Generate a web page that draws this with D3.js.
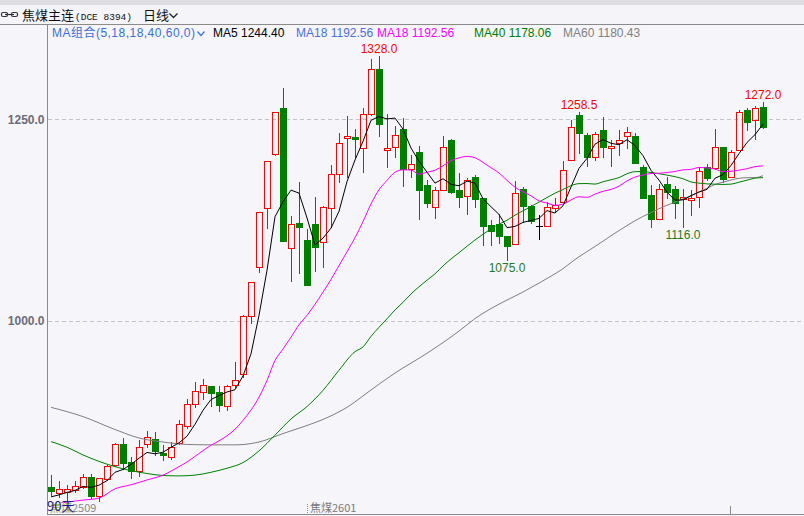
<!DOCTYPE html>
<html><head><meta charset="utf-8">
<script src="https://cdn.jsdelivr.net/npm/d3@7"></script>
<style>body{margin:0;background:#f5f5fa;overflow:hidden}svg{display:block}</style>
</head><body><svg id="c" width="804" height="516"></svg>
<script>
// ---------- data ----------
const opens  = [794,787,788,790.5,794,806.5,783,804,821,847.5,825,814,847.5,853.5,836.5,831.5,849,870,897,912,
  919.5,912,894.5,920.5,934,1006,1067,1140,1207,1264,1090.5,1121.5,1100.5,1120,1098,1140,1182,1227,1228,1214.5,
  1256,1312,1212,1215.5,1238,1188.5,1209.5,1168.5,1141.5,1162.5,1224.5,1162.5,1155,1178.5,1152.5,1119,1120,1105.5,1095.5,1163.5,
  1142.5,1117.5,1117.5,1140,1147.5,1199.5,1255.5,1230.5,1203.5,1236.5,1214.5,1220.5,1229.5,1229.5,1191,1156,1126.5,1170,1163.5,1151,
  1150,1153.5,1191,1189.5,1215.5,1178.5,1212,1261.5,1249,1265];
const highs  = [809,802,797,802,810,810,805.5,821.5,849,855,831.5,852.5,863.5,862.5,846,850,877,903,924.5,928,
  919.5,919.5,920.5,949,1007.5,1048.5,1135,1198.5,1259,1289,1130,1172,1114,1153.5,1142.5,1193.5,1233,1254,1238,1264,
  1324.5,1328,1256.5,1241.5,1251.5,1206,1217,1175,1166,1229,1225.5,1183.5,1177,1181,1152.5,1125,1132.5,1105.5,1173.5,1166,
  1143.5,1131.5,1147.5,1152.5,1198.5,1249,1258.5,1233,1234.5,1253,1224.5,1236.5,1240.5,1233,1193.5,1168.5,1170,1178.5,1167.5,1163.5,
  1162.5,1189.5,1194.5,1238,1215.5,1212,1261.5,1264,1266.5,1272];
const lows   = [784,782,778,788,793,780.5,777,803,820,816.5,805.5,808,844,834,827.5,829,847.5,867.5,893.5,903.5,
  894.5,888.5,889.5,918,930.5,997.5,1060.5,1115,1205.5,1099,1049.5,1059.5,1044.5,1062,1067,1116.5,1172.5,1178.5,1203.5,1184.5,
  1255,1229,1191,1203.5,1167.5,1178.5,1126.5,1141.5,1127.5,1162,1158.5,1141.5,1132.5,1141.5,1094,1094,1096.5,1075,1095.5,1122.5,
  1122,1101.5,1117.5,1135,1147,1199.5,1208,1192,1199.5,1203.5,1192,1205.5,1214.5,1196,1152.5,1116.5,1126.5,1152.5,1127.5,1116,
  1131.5,1141.5,1175,1188.5,1172.5,1178.5,1212,1236.5,1225.5,1239];
const closes = [789,792,792,795.5,806.5,783,805.5,820,847.5,824,814,844,856,839,834,844,872,897,913,920.5,
  911,896,919.5,927,1006,1048,1135,1198,1259,1099,1120,1116.5,1044.5,1091.5,1141,1182,1220.5,1229,1225.5,1256.5,
  1312,1244,1214.5,1230.5,1188.5,1194.5,1162.5,1146.5,1162.5,1215.5,1160,1153.5,1175,1151,1117.5,1111.5,1105.5,1093,1158.5,1142.5,
  1124,1117.5,1141.5,1144,1187,1240.5,1233,1203.5,1232,1215.5,1217,1224.5,1234.5,1196,1152.5,1126.5,1163.5,1160,1146.5,1154,
  1152.5,1186,1177,1215.5,1176,1209.5,1259,1246.5,1264,1240.5];

// moving-average lines before their window is full (prior days are not in the picture)
const ma5EarlyIdx  = [0,1,2,3];
const ma5EarlyVal  = [782,784.5,787.5,790];
const ma18EarlyIdx = [0,2,4,6,8,10,12,14,16];
const ma18EarlyVal = [772,775.5,778,780.5,792,797,803,809,819.5];
const ma40EarlyIdx = [0,2,4,6,8,10,12,14,16,18,20,22,24,26,28,30,32,34,36,38];
const ma40EarlyVal = [850.5,843.5,834,826,819.5,814.5,811,808.5,808,809,812.5,817.5,824.5,839,858.5,878.5,894,914,939,962];
const ma60EarlyIdx = [0,4,8,11,14,17,20,23,26,29,32,34,37,40,43,47,51,53,57];
const ma60EarlyVal = [893,881.5,865.5,855,850,847,846.5,846.5,850,860.5,870.5,878,893,914.5,935.5,960,987.5,1003,1026];

const maPeriods   = [5,18,18,40,60];
const legendNames = ["MA5","MA18","MA18","MA40","MA60"];
const legendVals  = [1244.40,1192.56,1192.56,1178.06,1180.43];
const yTickValues = [1000,1250];
const markHighIdx = [41,66,89];
const markLowIdx  = [57,79];
const contractLabels = ["焦煤2509","焦煤2601"];

// ---------- drawing ----------
const svg = d3.select('#c');
const W = 804;
const FONT = '"Liberation Sans","Noto Sans CJK SC",Arial,sans-serif';
const CJK = '"Noto Sans CJK SC","Liberation Sans",sans-serif';

const x = d3.scaleLinear().domain([0, opens.length-1]).range([51, 763]);
const y = d3.scaleLinear().domain([1000, 1250]).range([321, 119.3]);

// header
svg.append('rect').attr('x',0).attr('y',0).attr('width',W).attr('height',5).attr('fill','#dcdce1');
svg.append('rect').attr('x',0).attr('y',5).attr('width',W).attr('height',19).attr('fill','#f4f4f9');
svg.append('line').attr('x1',0).attr('x2',W).attr('y1',24.5).attr('y2',24.5).attr('stroke','#8a8a8a');
// link icon
const ic = svg.append('g').attr('fill','none').attr('stroke','#333').attr('stroke-width',1.2);
ic.append('rect').attr('x',1.5).attr('y',12.5).attr('width',6).attr('height',4).attr('rx',1.5);
ic.append('rect').attr('x',11.5).attr('y',12.5).attr('width',6).attr('height',4).attr('rx',1.5);
ic.append('line').attr('x1',5).attr('x2',14).attr('y1',14.5).attr('y2',14.5);
svg.append('text').attr('x',22).attr('y',20).attr('font-family',CJK).attr('font-size',13).attr('fill','#111').text('焦煤主连');
svg.append('text').attr('x',75).attr('y',19.5).attr('font-family','"Liberation Mono","DejaVu Sans Mono",monospace')
  .attr('font-size',9.5).attr('fill','#111').text('(DCE 8394)');
svg.append('text').attr('x',143).attr('y',20).attr('font-family',CJK).attr('font-size',13).attr('fill','#111').text('日线');
svg.append('path').attr('d','M169.5,13.5 L173.5,17.5 L177.5,13.5').attr('fill','none').attr('stroke','#222').attr('stroke-width',1.3);

// legend row
const legendColors = ['#000000','#4a70e0','#ff00ff','#008000','#808080'];
svg.append('text').attr('x',52).attr('y',37).attr('font-family',FONT).attr('font-size',12).attr('fill','#3a6fd8')
  .attr('textLength',143).attr('lengthAdjust','spacing')
  .text('MA组合(' + maPeriods.join(',') + ',0)');
svg.append('path').attr('d','M197.5,31.5 L201,35.5 L204.5,31.5').attr('fill','none').attr('stroke','#3a6fd8').attr('stroke-width',1.2);
const legendX = [213,296,377,474,563];
legendNames.forEach((n,k)=>{
  svg.append('text').attr('x',legendX[k]).attr('y',37).attr('font-family',FONT).attr('font-size',12)
    .attr('fill',legendColors[k]).text(n + ' ' + legendVals[k].toFixed(2));
});

// grid lines
svg.append('g').selectAll('line').data(yTickValues).join('line')
  .attr('x1',48).attr('x2',W).attr('y1',d=>Math.round(y(d))+0.5).attr('y2',d=>Math.round(y(d))+0.5)
  .attr('stroke','#c2c2cc').attr('stroke-dasharray','4,3');

// axis labels
const axis = d3.axisLeft(y).tickValues(yTickValues).tickFormat(d=>d.toFixed(1)).tickSize(0).tickPadding(3);
const ag = svg.append('g').attr('transform','translate(47.5,0)').call(axis);
ag.select('.domain').remove();
ag.selectAll('text').attr('font-family',FONT).attr('font-size',12).attr('fill','#6c6c78').attr('font-weight','bold');

// frame lines
svg.append('line').attr('x1',47.5).attr('x2',47.5).attr('y1',24).attr('y2',515).attr('stroke','#8a8a8a');
svg.append('line').attr('x1',47).attr('x2',W).attr('y1',514.5).attr('y2',514.5).attr('stroke','#8a8a8a');

// clip
svg.append('clipPath').attr('id','plot').append('rect').attr('x',48).attr('y',25).attr('width',W-48).attr('height',478);
const plot = svg.append('g').attr('clip-path','url(#plot)');

// candles
const cg = plot.append('g').attr('shape-rendering','crispEdges');
opens.forEach((o,i)=>{
  const c = closes[i], h = highs[i], l = lows[i];
  const cx = Math.round(x(i));
  const yH = Math.round(y(h)), yL = Math.round(y(l));
  const yT = Math.round(y(Math.max(o,c))), yB = Math.round(y(Math.min(o,c)));
  if (c > o) {
    const col = '#ff0000';
    cg.append('rect').attr('x',cx-3+0.5).attr('y',yT+0.5).attr('width',6).attr('height',Math.max(1,yB-yT))
      .attr('fill','none').attr('stroke',col);
    if (yH < yT) cg.append('line').attr('x1',cx+0.5).attr('x2',cx+0.5).attr('y1',yH).attr('y2',yT).attr('stroke',col);
    if (yL > yB) cg.append('line').attr('x1',cx+0.5).attr('x2',cx+0.5).attr('y1',yB+1).attr('y2',yL+1).attr('stroke',col);
  } else if (c < o) {
    const col = '#008000';
    cg.append('line').attr('x1',cx+0.5).attr('x2',cx+0.5).attr('y1',yH).attr('y2',yL+1).attr('stroke',col);
    cg.append('rect').attr('x',cx-3).attr('y',yT).attr('width',7).attr('height',Math.max(1,yB-yT+1)).attr('fill',col);
  } else {
    const col = '#000000';
    cg.append('line').attr('x1',cx+0.5).attr('x2',cx+0.5).attr('y1',yH).attr('y2',yL+1).attr('stroke',col);
    cg.append('line').attr('x1',cx-3).attr('x2',cx+4).attr('y1',yT+0.5).attr('y2',yT+0.5).attr('stroke',col);
  }
});

// moving averages
function maPoints(n, earlyIdx, earlyVal){
  const pts = earlyIdx.map((i,k)=>[i, earlyVal[k]]);
  closes.forEach((c,i)=>{ if (i >= n-1) pts.push([i, d3.mean(closes.slice(i-n+1, i+1))]); });
  return pts;
}
const lineLin = d3.line().x(d=>x(d[0])).y(d=>y(d[1]));
const lineSm  = d3.line().x(d=>x(d[0])).y(d=>y(d[1])).curve(d3.curveMonotoneX);
plot.append('path').attr('d', lineSm(maPoints(60, ma60EarlyIdx, ma60EarlyVal))).attr('fill','none').attr('stroke','#808080').attr('stroke-width',1);
plot.append('path').attr('d', lineSm(maPoints(40, ma40EarlyIdx, ma40EarlyVal))).attr('fill','none').attr('stroke','#008000').attr('stroke-width',1);
plot.append('path').attr('d', lineSm(maPoints(18, ma18EarlyIdx, ma18EarlyVal))).attr('fill','none').attr('stroke','#ff00ff').attr('stroke-width',1);
plot.append('path').attr('d', lineLin(maPoints(5, ma5EarlyIdx, ma5EarlyVal))).attr('fill','none').attr('stroke','#000000').attr('stroke-width',1);

// high / low marks
markHighIdx.forEach(i=>{
  plot.append('text').attr('x',x(i)).attr('y',y(highs[i])-3).attr('text-anchor','middle')
    .attr('font-family',FONT).attr('font-size',12).attr('fill','#ff0000').text(highs[i].toFixed(1));
});
markLowIdx.forEach(i=>{
  plot.append('text').attr('x',x(i)).attr('y',y(lows[i])+12).attr('text-anchor','middle')
    .attr('font-family',FONT).attr('font-size',12).attr('fill','#1e7a1e').text(lows[i].toFixed(1));
});

// bottom labels (the reference draws "90天" on top of the first contract label)
const t1 = svg.append('text').attr('x',50).attr('y',512).attr('font-family',CJK).attr('font-size',11);
t1.append('tspan').attr('fill','#a4a84a').text(contractLabels[0].slice(0,2));
t1.append('tspan').attr('fill','#8a8a8a').text(contractLabels[0].slice(2));
svg.append('text').attr('x',47).attr('y',511).attr('font-family',CJK).attr('font-size',13).attr('fill','#1c1c8c').text('90天');
svg.append('line').attr('x1',Math.round(x(32))+0.5).attr('x2',Math.round(x(32))+0.5).attr('y1',504).attr('y2',514)
  .attr('stroke','#888').attr('stroke-dasharray','1,1');
svg.append('text').attr('x',Math.round(x(32))+3).attr('y',512).attr('font-family',CJK).attr('font-size',11)
  .attr('fill','#7a7a7a').text(contractLabels[1]);
svg.append('line').attr('x1',Math.round(x(85))-0.5).attr('x2',Math.round(x(85))-0.5).attr('y1',506).attr('y2',514).attr('stroke','#888');
</script>
</body></html>
